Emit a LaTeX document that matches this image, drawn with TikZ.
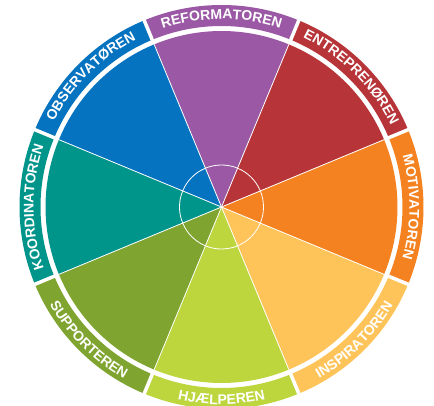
\documentclass[tikz,border=0pt]{standalone}
\usepackage{fontspec}
\newfontfamily\rolefont{Liberation Sans}
\usetikzlibrary{decorations.text}

\definecolor{reformator}{RGB}{155,89,165}
\definecolor{entreprenor}{RGB}{183,53,56}
\definecolor{motivator}{RGB}{244,130,33}
\definecolor{inspirator}{RGB}{254,196,90}
\definecolor{hjelper}{RGB}{190,214,62}
\definecolor{supporter}{RGB}{127,164,47}
\definecolor{koordinator}{RGB}{0,149,138}
\definecolor{observator}{RGB}{6,115,192}

\newcommand{\rolestyle}{\rolefont\bfseries\fontsize{14}{16}\selectfont}

\tikzset{
  divider/.style={white, line width=0.8pt},
  ringgap/.style={white, line width=3.5pt},
  rolelabel/.style={decorate, decoration={text along path, text align=center,
    text color=white, text={|\rolestyle|#1}}}
}

\begin{document}
\begin{tikzpicture}

\clip (-221.5pt,-199pt) rectangle (212.5pt,207pt);

% pie and ring
\foreach \a/\c in {90/reformator, 45/entreprenor, 0/motivator, -45/inspirator,
  -90/hjelper, -135/supporter, 180/koordinator, 135/observator}
{
  \fill[\c] (0,0) -- ({\a+22.5}:176pt) arc[start angle=\a+22.5, end angle=\a-22.5, radius=176pt] -- cycle;
  \fill[\c] ({\a+22.5}:181pt) arc[start angle=\a+22.5, end angle=\a-22.5, radius=181pt]
    -- ({\a-22.5}:202pt) arc[start angle=\a-22.5, end angle=\a+22.5, radius=202pt] -- cycle;
}

\foreach \a in {22.5, 67.5, ..., 337.5}
{
  \draw[divider] (0,0) -- (\a:176pt);
  \draw[ringgap] (\a:178pt) -- (\a:205pt);
}
\draw[divider] (0,0) circle[radius=42pt];

% labels
\path[rolelabel={REFORMATOREN}] (112.5:188pt) arc[start angle=112.5, end angle=67.5, radius=188pt];
\path[rolelabel={ENTREPRENØREN}] (67.5:188pt) arc[start angle=67.5, end angle=22.5, radius=188pt];
\path[rolelabel={MOTIVATOREN}] (22.5:188pt) arc[start angle=22.5, end angle=-22.5, radius=188pt];
\path[rolelabel={INSPIRATOREN}] (-67.5:197.5pt) arc[start angle=-67.5, end angle=-22.5, radius=197.5pt];
\path[rolelabel={HJÆLPEREN}] (-112.5:197.5pt) arc[start angle=-112.5, end angle=-67.5, radius=197.5pt];
\path[rolelabel={SUPPORTEREN}] (-157.5:197.5pt) arc[start angle=-157.5, end angle=-112.5, radius=197.5pt];
\path[rolelabel={KOORDINATOREN}] (202.5:188pt) arc[start angle=202.5, end angle=157.5, radius=188pt];
\path[rolelabel={OBSERVATØREN}] (157.5:188pt) arc[start angle=157.5, end angle=112.5, radius=188pt];

\end{tikzpicture}
\end{document}
